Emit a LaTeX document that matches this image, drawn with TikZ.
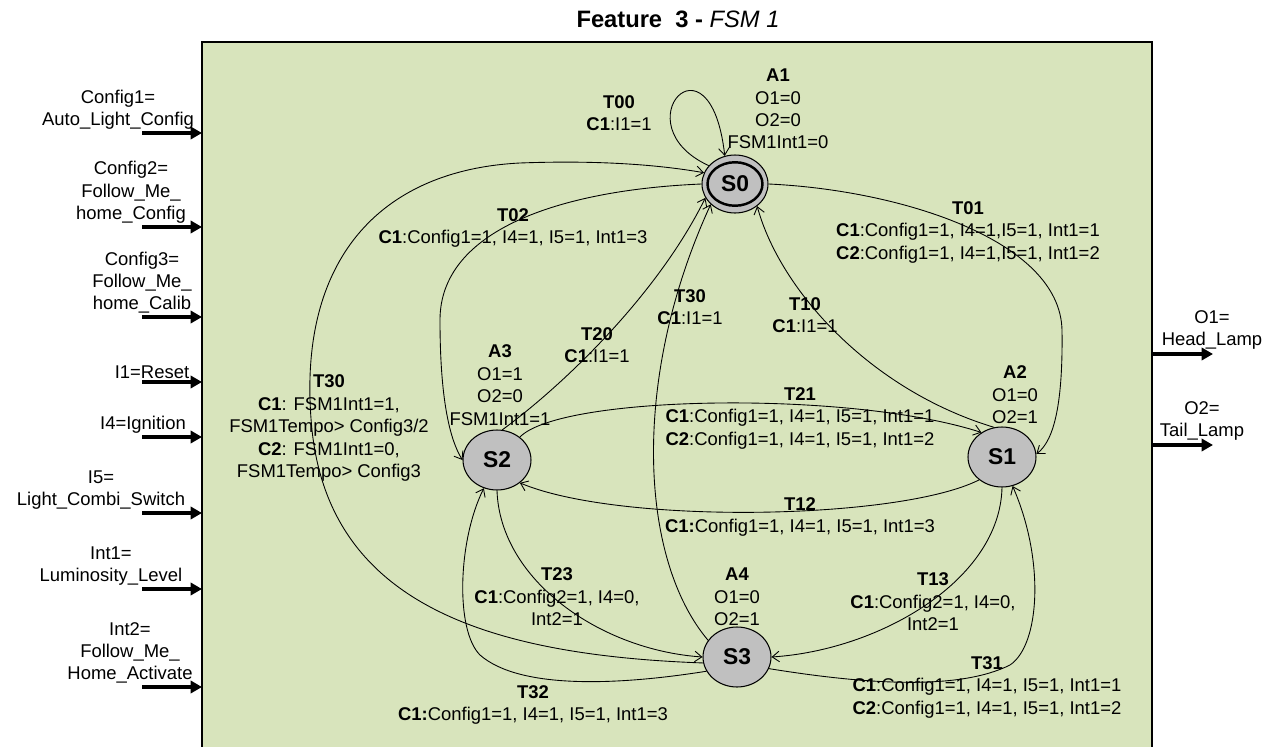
\documentclass[tikz,border=0pt]{standalone}
\usepackage{fontspec}
\setmainfont{Liberation Sans}
\usetikzlibrary{arrows.meta,shapes.geometric}
\definecolor{fsmgreen}{RGB}{216,228,188}
\definecolor{stategray}{RGB}{192,192,192}
\tikzset{
  fsmstate/.style={draw, ellipse, fill=stategray, line width=0.6pt, inner sep=0pt,
    minimum width=1.36cm, minimum height=1.2cm, font=\fontsize{13}{15}\selectfont\bfseries},
  lbl/.style={align=center, inner sep=0pt},
  trans/.style={->, line width=0.5pt},
  ioarrow/.style={-{Triangle[length=6.5pt,width=7pt]}, line width=2.2pt}
}
\begin{document}
\begin{tikzpicture}[x=0.02cm, y=-0.02cm, font=\fontsize{10.5}{12.8}\selectfont,
    >={Straight Barb[length=4pt,width=6pt]}]
        \useasboundingbox (0,0) rectangle (1276,747);

        \node [anchor=north west, fill=fsmgreen, inner sep=0pt, outer sep=0pt,
            minimum width=19cm, minimum height=14.1cm] (fsm) at (202,42) {};
        \draw [line width=1.5pt] (fsm.south west) -- (fsm.north west) -- (fsm.north east) -- (fsm.south east);
        \node [anchor=base, font=\fontsize{13.5}{16}\selectfont] (title) at (678,28)
            {\textbf{Feature\ \ 3 -} \textit{FSM 1}};

        % inputs
        \foreach \y/\x/\txt in {133/118/{Config1=\\Auto\_Light\_Config},
                227/131/{Config2=\\Follow\_Me\_\\home\_Config},
                317/142/{Config3=\\Follow\_Me\_\\home\_Calib},
                382/152/{I1=Reset},
                437/143/{I4=Ignition},
                513/101/{I5=\\Light\_Combi\_Switch},
                589/111/{Int1=\\Luminosity\_Level},
                687/130/{Int2=\\Follow\_Me\_\\Home\_Activate}} {
            \coordinate (in\y) at (142,\y);
            \draw [ioarrow] (in\y) -- (in\y -| fsm.west);
            \node [lbl, anchor=south] (inlbl\y) at (\x,\y-3) {\txt};
        }

        % outputs
        \foreach \y/\x/\txt in {354/1212/{O1=\\Head\_Lamp}, 445/1202/{O2=\\Tail\_Lamp}} {
            \coordinate (out\y) at (1213,\y);
            \draw [ioarrow] (out\y -| fsm.east) -- (out\y);
            \node [lbl, anchor=south] (outlbl\y) at (\x,\y-4) {\txt};
        }

        % states
        \node [fsmstate, minimum width=1.32cm, minimum height=1.16cm,
            path picture={\draw [line width=1.4pt] (path picture bounding box.center) ellipse (0.55cm and 0.435cm);}]
            (S0) at (735,184) {S0};
        \node [fsmstate] (S1) at (1002,457) {S1};
        \node [fsmstate] (S2) at (497,460) {S2};
        \node [fsmstate] (S3) at (737,657) {S3};

        % transitions
        \draw [trans] (S0.145) .. controls (620,125) and (710,25) .. (S0.110);
        \draw [trans] (S0.0) .. controls (900,190) and (1060,240) .. (1062,330)
            .. controls (1063,400) and (1055,440) .. (S1.5);
        \draw [trans] (S0.180) .. controls (560,190) and (440,230) .. (440,320)
            .. controls (440,400) and (450,440) .. (S2.180);
        \draw [trans] (S3.190) .. controls (480,655) and (330,600) .. (312,430)
            .. controls (295,260) and (380,170) .. (520,163)
            .. controls (600,160) and (660,165) .. (S0.160);
        \draw [trans] (S1.105) .. controls (870,390) and (780,290) .. (S0.315);
        \draw [trans] (S2.80) .. controls (570,380) and (660,290) .. (S0.205);
        \draw [trans] (S3.150) .. controls (640,560) and (630,380) .. (S0.220);
        \draw [trans] (S2.45) .. controls (560,395) and (850,390) .. (S1.130);
        \draw [trans] (S1.225) .. controls (900,520) and (620,525) .. (S2.315);
        \draw [trans] (S2.270) .. controls (500,580) and (600,650) .. (S3.180);
        \draw [trans] (S3.205) .. controls (620,685) and (520,690) .. (480,655)
            .. controls (455,630) and (458,540) .. (S2.245);
        \draw [trans] (S1.270) .. controls (1000,580) and (880,650) .. (S3.0);
        \draw [trans] (S3.340) .. controls (870,685) and (960,690) .. (1010,665)
            .. controls (1040,645) and (1045,560) .. (S1.290);

        % actions
        \node [lbl] (lA1) at (778,109) {\textbf{A1}\\O1=0\\O2=0\\FSM1Int1=0};
        \node [lbl] (lA2) at (1015,395) {\textbf{A2}\\O1=0\\O2=1};
        \node [lbl] (lA3) at (500,385) {\textbf{A3}\\O1=1\\O2=0\\FSM1Int1=1};
        \node [lbl] (lA4) at (737,597) {\textbf{A4}\\O1=0\\O2=1};

        % conditions
        \node [lbl] (lT00) at (619,113) {\textbf{T00}\\\textbf{C1}:I1=1};
        \node [lbl] (lT01) at (968,232) {\textbf{T01}\\\textbf{C1}:Config1=1, I4=1,I5=1, Int1=1\\\textbf{C2}:Config1=1, I4=1,I5=1, Int1=2};
        \node [lbl] (lT02) at (513,228) {\textbf{T02}\\\textbf{C1}:Config1=1, I4=1, I5=1, Int1=3};
        \node [lbl] (lT30a) at (690,307) {\textbf{T30}\\\textbf{C1}:I1=1};
        \node [lbl] (lT10) at (805,315) {\textbf{T10}\\\textbf{C1}:I1=1};
        \node [lbl] (lT20) at (597,345) {\textbf{T20}\\\textbf{C1}:I1=1};
        \node [lbl] (lT30b) at (329,428) {\textbf{T30}\\\textbf{C1}: FSM1Int1=1,\\FSM1Tempo> Config3/2\\\textbf{C2}: FSM1Int1=0,\\FSM1Tempo> Config3};
        \node [lbl] (lT21) at (800,418) {\textbf{T21}\\\textbf{C1}:Config1=1, I4=1, I5=1, Int1=1\\\textbf{C2}:Config1=1, I4=1, I5=1, Int1=2};
        \node [lbl] (lT12) at (800,517) {\textbf{T12}\\\textbf{C1:}Config1=1, I4=1, I5=1, Int1=3};
        \node [lbl] (lT23) at (557,597) {\textbf{T23}\\\textbf{C1}:Config2=1, I4=0,\\Int2=1};
        \node [lbl] (lT13) at (933,602) {\textbf{T13}\\\textbf{C1}:Config2=1, I4=0,\\Int2=1};
        \node [lbl] (lT31) at (987,687) {\textbf{T31}\\\textbf{C1}:Config1=1, I4=1, I5=1, Int1=1\\\textbf{C2}:Config1=1, I4=1, I5=1, Int1=2};
        \node [lbl] (lT32) at (533,705) {\textbf{T32}\\\textbf{C1:}Config1=1, I4=1, I5=1, Int1=3};
\end{tikzpicture}
\end{document}
